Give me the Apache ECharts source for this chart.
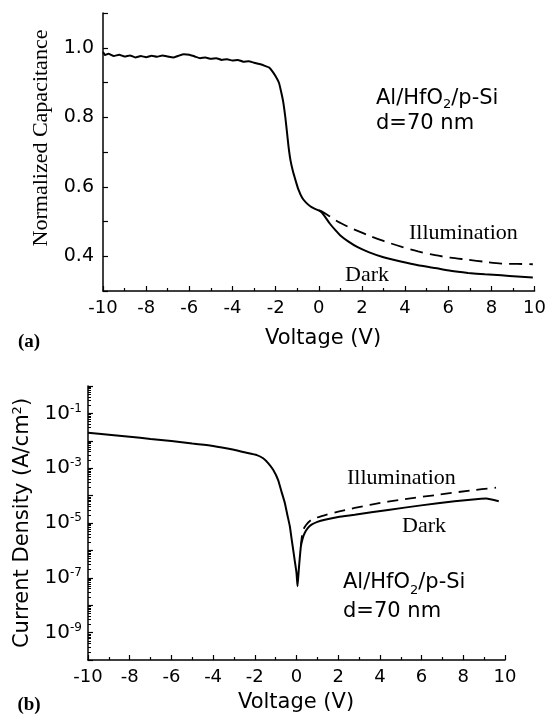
<!DOCTYPE html>
<html>
<head>
<meta charset="utf-8">
<script src="https://cdn.jsdelivr.net/npm/echarts@6/dist/echarts.min.js"></script>
<style>
  html, body { margin: 0; padding: 0; background: #fff; }
  #main { width: 549px; height: 719px; }
</style>
</head>
<body>
<div id="main"></div>
<script>
// (a) C-V, normalized capacitance
var capDarkV = [-10, -9.9, -9.75, -9.5, -9.25, -9, -8.75, -8.5, -8.25, -8, -7.75, -7.5, -7.25, -7, -6.75, -6.5, -6.25, -6, -5.75, -5.5, -5.25, -5, -4.75, -4.5, -4.25, -4, -3.75, -3.5, -3.25, -3, -2.75, -2.5,
  -2.3, -2.15, -2.0, -1.85, -1.75, -1.65, -1.55, -1.47, -1.4, -1.31, -1.2, -1.08, -0.95, -0.77, -0.6, -0.38, -0.2, 0,
  0.15, 0.31, 0.5, 0.77, 1.0, 1.38, 1.8, 2.31, 3.0, 3.85, 4.6, 5.39, 6.1, 6.92, 7.7, 8.46, 9.2, 9.92];
var capDark = [0.988, 0.979, 0.983, 0.976, 0.980, 0.975, 0.978, 0.972, 0.976, 0.973, 0.977, 0.974, 0.978, 0.975, 0.972, 0.977, 0.981, 0.980, 0.975, 0.970, 0.972, 0.968, 0.970, 0.965, 0.967, 0.963, 0.965, 0.960, 0.961, 0.957, 0.953, 0.948,
  0.943, 0.932, 0.918, 0.900, 0.875, 0.845, 0.800, 0.755, 0.715, 0.676, 0.645, 0.619, 0.593, 0.568, 0.555, 0.543, 0.537, 0.532,
  0.525, 0.512, 0.495, 0.475, 0.460, 0.442, 0.426, 0.412, 0.397, 0.384, 0.374, 0.366, 0.358, 0.352, 0.348, 0.345, 0.342, 0.339];
var capIllumV = [0, 0.15, 0.5, 0.8, 1.0, 1.38, 1.8, 2.31, 3.0, 3.85, 4.6, 5.39, 6.1, 6.92, 7.7, 8.46, 9.2, 9.92];
var capIllum = [0.532, 0.529, 0.515, 0.503, 0.496, 0.484, 0.473, 0.460, 0.444, 0.427, 0.414, 0.403, 0.396, 0.390, 0.384, 0.379, 0.378, 0.377];

// (b) J-V, current density (A/cm2)
var jDarkV = [-10, -9, -8, -7, -6, -5, -4, -3, -2.5, -1.9, -1.6, -1.35, -1.12, -0.88, -0.72, -0.56, -0.44, -0.32, -0.24, -0.16, -0.08, 0, 0.05,
  0.11, 0.21, 0.3, 0.4, 0.55, 0.72, 1.0, 1.36, 2.0, 2.79, 4.39, 5.98, 7.58, 8.85, 9.1, 9.7];
var jDark = [1.95e-2, 1.66e-2, 1.41e-2, 1.17e-2, 9.8e-3, 7.9e-3, 6.5e-3, 4.7e-3, 3.8e-3, 3.0e-3, 2.3e-3, 1.5e-3, 8.7e-4, 3.7e-4, 1.4e-4, 5.4e-5, 2.0e-5, 7.6e-6, 2.8e-6, 1.07e-6, 4.0e-7, 1.5e-7, 4.9e-8,
  2.0e-7, 1.4e-6, 2.8e-6, 4.4e-6, 6.6e-6, 8.7e-6, 1.1e-5, 1.32e-5, 1.66e-5, 2.0e-5, 3.0e-5, 4.4e-5, 6.2e-5, 7.6e-5, 7.8e-5, 6.2e-5];
var jIllumV = [0.21, 0.3, 0.45, 0.72, 1.3, 2.0, 3.59, 5.18, 6.78, 8.37, 9.57];
var jIllum = [1.4e-6, 5.0e-6, 8.3e-6, 1.32e-5, 1.86e-5, 2.6e-5, 4.7e-5, 7.4e-5, 1.07e-4, 1.55e-4, 1.95e-4];

var voltTicks = [-10, 10, 2];

function pairs(xs, ys) {
  return xs.map(function (x, i) { return [x, ys[i]]; });
}

var sans = 'DejaVu Sans';
var black = '#000';

var chart = echarts.init(document.getElementById('main'), null, { renderer: 'canvas' });

var xAxisBase = {
  type: 'value',
  position: 'bottom',
  min: voltTicks[0],
  max: voltTicks[1],
  interval: voltTicks[2],
  axisLine: { onZero: false, lineStyle: { color: black, width: 1.5 } },
  axisTick: { inside: true, length: 5, lineStyle: { color: black, width: 1.2 } },
  minorTick: { show: true, splitNumber: 2, length: 3, lineStyle: { color: black, width: 1.2 } },
  axisLabel: { color: black, fontFamily: sans, fontSize: 18, margin: 8 },
  splitLine: { show: false }
};

chart.setOption({
  animation: false,
  backgroundColor: '#fff',
  grid: [
    { left: 103, top: 13, width: 434, height: 278 },
    { left: 88, top: 386, width: 417, height: 274 }
  ],
  xAxis: [
    Object.assign({ gridIndex: 0 }, xAxisBase),
    Object.assign({ gridIndex: 1 }, xAxisBase)
  ],
  yAxis: [
    {
      gridIndex: 0,
      type: 'value',
      position: 'left',
      min: 0.3,
      max: 1.1,
      interval: 0.1,
      axisLine: { show: true, onZero: false, lineStyle: { color: black, width: 1.5 } },
      axisTick: { inside: true, length: 5, lineStyle: { color: black, width: 1.2 } },
      axisLabel: {
        color: black, fontFamily: sans, fontSize: 19, margin: 9,
        formatter: function (v) {
          var t = Math.round(v * 10);
          return (t % 2 === 0 && t < 11) ? (t / 10).toFixed(1) : '';
        }
      },
      splitLine: { show: false }
    },
    {
      gridIndex: 1,
      type: 'log',
      position: 'left',
      logBase: 10,
      min: 1e-10,
      max: 1,
      interval: 1,
      axisLine: { show: true, onZero: false, lineStyle: { color: black, width: 1.5 } },
      axisTick: { inside: true, length: 5, lineStyle: { color: black, width: 1.2 } },
      minorTick: { show: true, splitNumber: 9, length: 3, lineStyle: { color: black, width: 1 } },
      axisLabel: {
        color: black, fontFamily: sans, margin: 6,
        formatter: function (v) {
          var e = Math.round(Math.log10(v));
          return (e % 2 === 0) ? '' : '{b|10}{s|' + e + '}';
        },
        rich: {
          b: { fontFamily: sans, fontSize: 20, color: black, lineHeight: 22 },
          s: { fontFamily: sans, fontSize: 12, color: black, lineHeight: 12, verticalAlign: 'top' }
        }
      },
      splitLine: { show: false }
    }
  ],
  series: [
    {
      name: 'Dark', type: 'line', xAxisIndex: 0, yAxisIndex: 0,
      data: pairs(capDarkV, capDark), showSymbol: false, smooth: 0.15,
      lineStyle: { color: black, width: 2 }, z: 3
    },
    {
      name: 'Illumination', type: 'line', xAxisIndex: 0, yAxisIndex: 0,
      data: pairs(capIllumV, capIllum), showSymbol: false, smooth: 0.3,
      lineStyle: { color: black, width: 1.8, type: [13, 7] }
    },
    {
      name: 'Dark', type: 'line', xAxisIndex: 1, yAxisIndex: 1,
      data: pairs(jDarkV, jDark), showSymbol: false, smooth: 0.15,
      lineStyle: { color: black, width: 2 }, z: 3
    },
    {
      name: 'Illumination', type: 'line', xAxisIndex: 1, yAxisIndex: 1,
      data: pairs(jIllumV, jIllum), showSymbol: false, smooth: 0.3,
      lineStyle: { color: black, width: 1.8, type: [11, 7] }
    }
  ],
  graphic: [
    { type: 'text', x: 41, y: 138, rotation: Math.PI / 2,
      style: { text: 'Normalized Capacitance', font: '22px "Liberation Serif"', fill: black, align: 'center', verticalAlign: 'middle' } },
    { type: 'text', x: 323, y: 339,
      style: { text: 'Voltage (V)', font: '21px "DejaVu Sans"', fill: black, align: 'center', verticalAlign: 'middle' } },
    { type: 'text', x: 29, y: 342,
      style: { text: '(a)', font: 'bold 19px "Liberation Serif"', fill: black, align: 'center', verticalAlign: 'middle' } },
    { type: 'text', x: 376, y: 111,
      style: {
        text: '{n|Al/HfO}{s|2}{n|/p-Si}\n{n|d=70 nm}', fill: black, align: 'left', verticalAlign: 'middle',
        rich: {
          n: { fontFamily: sans, fontSize: 21, lineHeight: 25, fill: black },
          s: { fontFamily: sans, fontSize: 13, lineHeight: 12, verticalAlign: 'bottom', fill: black }
        }
      } },
    { type: 'text', x: 409, y: 233,
      style: { text: 'Illumination', font: '22px "Liberation Serif"', fill: black, align: 'left', verticalAlign: 'middle' } },
    { type: 'text', x: 345, y: 275,
      style: { text: 'Dark', font: '22px "Liberation Serif"', fill: black, align: 'left', verticalAlign: 'middle' } },

    { type: 'text', x: 23, y: 523, rotation: Math.PI / 2,
      style: {
        text: '{n|Current Density (A/cm}{p|2}{n|)}', fill: black, align: 'center', verticalAlign: 'middle',
        rich: {
          n: { fontFamily: sans, fontSize: 21, lineHeight: 24, fill: black },
          p: { fontFamily: sans, fontSize: 13, lineHeight: 12, verticalAlign: 'top', fill: black }
        }
      } },
    { type: 'text', x: 296, y: 703,
      style: { text: 'Voltage (V)', font: '21px "DejaVu Sans"', fill: black, align: 'center', verticalAlign: 'middle' } },
    { type: 'text', x: 29, y: 705,
      style: { text: '(b)', font: 'bold 19px "Liberation Serif"', fill: black, align: 'center', verticalAlign: 'middle' } },
    { type: 'text', x: 343, y: 597,
      style: {
        text: '{n|Al/HfO}{s|2}{n|/p-Si}\n{n|d=70 nm}', fill: black, align: 'left', verticalAlign: 'middle',
        rich: {
          n: { fontFamily: sans, fontSize: 21, lineHeight: 29, fill: black },
          s: { fontFamily: sans, fontSize: 13, lineHeight: 12, verticalAlign: 'bottom', fill: black }
        }
      } },
    { type: 'text', x: 347, y: 478,
      style: { text: 'Illumination', font: '22px "Liberation Serif"', fill: black, align: 'left', verticalAlign: 'middle' } },
    { type: 'text', x: 402, y: 526,
      style: { text: 'Dark', font: '22px "Liberation Serif"', fill: black, align: 'left', verticalAlign: 'middle' } }
  ]
});
</script>
</body>
</html>
